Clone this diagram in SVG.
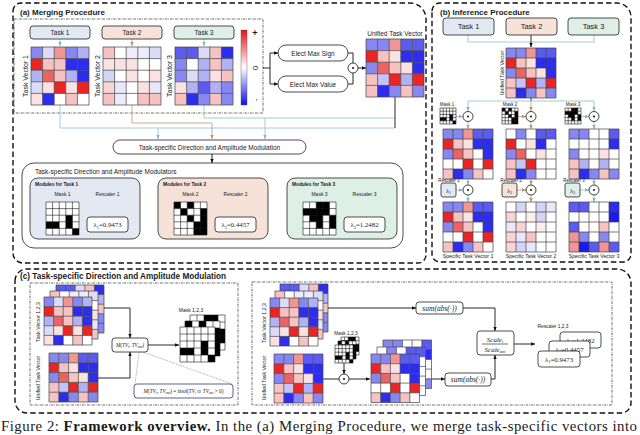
<svg xmlns="http://www.w3.org/2000/svg" width="640" height="435" viewBox="0 0 640 435">
<defs>
<style>
text{font-family:"Liberation Sans",Arial,Helvetica,sans-serif;fill:#1a1a1a}
.sf{font-family:"Liberation Serif","Times New Roman",serif}
.it{font-style:italic}
.bd{font-weight:bold}
.mid{text-anchor:middle}
.gr{fill:none;stroke:#444;stroke-width:0.7}
.gk{fill:none;stroke:#1a1a1a;stroke-width:0.6}
.bx{fill:#fff;stroke:#222;stroke-width:0.8}
.ln{fill:none;stroke-width:0.9}
.lb{stroke:#9cc2e5}
.lt{stroke:#c7a47f}
.lg{stroke:#93c9b8}
.lk{stroke:#111}
.od{fill:none;stroke:#111;stroke-width:1.4;stroke-dasharray:5.5 3}
.dd{fill:none;stroke:#333;stroke-width:0.75;stroke-dasharray:2.5 1 0.7 1}
.t1{fill:#e2e9f3;stroke:#222;stroke-width:0.8}
.t2{fill:#f6e2d8;stroke:#222;stroke-width:0.8}
.t3{fill:#ddefe6;stroke:#222;stroke-width:0.8}
.cir{fill:#fff;stroke:#111;stroke-width:0.8}
</style>
<linearGradient id="cb" x1="0" y1="0" x2="0" y2="1"><stop offset="0" stop-color="#e81010"/><stop offset="0.5" stop-color="#fff"/><stop offset="1" stop-color="#1010e8"/></linearGradient>
<marker id="mk" viewBox="0 0 6 6" refX="6" refY="3" markerWidth="4" markerHeight="4" markerUnits="userSpaceOnUse" orient="auto"><path d="M0 0.5L6 3L0 5.5Z" fill="#111"/></marker>
<marker id="mb" viewBox="0 0 6 6" refX="6" refY="3" markerWidth="4" markerHeight="4" markerUnits="userSpaceOnUse" orient="auto"><path d="M0 0.5L6 3L0 5.5Z" fill="#7fb1de"/></marker>
<marker id="mt" viewBox="0 0 6 6" refX="6" refY="3" markerWidth="4" markerHeight="4" markerUnits="userSpaceOnUse" orient="auto"><path d="M0 0.5L6 3L0 5.5Z" fill="#b8926a"/></marker>
<marker id="mg" viewBox="0 0 6 6" refX="6" refY="3" markerWidth="4" markerHeight="4" markerUnits="userSpaceOnUse" orient="auto"><path d="M0 0.5L6 3L0 5.5Z" fill="#7fbcaa"/></marker>
<path id="grid" class="gr" vector-effect="non-scaling-stroke" d="M0 0H50V50H0ZM10 0V50M20 0V50M30 0V50M40 0V50M0 10H50M0 20H50M0 30H50M0 40H50"/>
<path id="gridk" class="gk" vector-effect="non-scaling-stroke" d="M0 0H50V50H0ZM10 0V50M20 0V50M30 0V50M40 0V50M0 10H50M0 20H50M0 30H50M0 40H50"/>
<g id="TV1"><rect width="50" height="50" fill="#fff"/>
<rect x="0" y="0" width="10" height="10" fill="#8787f1"/><rect x="10" y="0" width="10" height="10" fill="#dcdcf8"/><rect x="20" y="0" width="10" height="10" fill="#f09494"/><rect x="30" y="0" width="10" height="10" fill="#8787f1"/><rect x="40" y="0" width="10" height="10" fill="#b1b1f4"/>
<rect x="0" y="10" width="10" height="10" fill="#e82626"/><rect x="10" y="10" width="10" height="10" fill="#f6c2c2"/><rect x="20" y="10" width="10" height="10" fill="#f6c2c2"/><rect x="30" y="10" width="10" height="10" fill="#2d2def"/><rect x="40" y="10" width="10" height="10" fill="#2d2def"/>
<rect x="0" y="20" width="10" height="10" fill="#b1b1f4"/><rect x="10" y="20" width="10" height="10" fill="#eb6464"/><rect x="20" y="20" width="10" height="10" fill="#f6c2c2"/><rect x="30" y="20" width="10" height="10" fill="#b1b1f4"/><rect x="40" y="20" width="10" height="10" fill="#2d2def"/>
<rect x="0" y="30" width="10" height="10" fill="#dcdcf8"/><rect x="10" y="30" width="10" height="10" fill="#fbe2e2"/><rect x="20" y="30" width="10" height="10" fill="#e82626"/><rect x="30" y="30" width="10" height="10" fill="#fbe2e2"/><rect x="40" y="30" width="10" height="10" fill="#e82626"/>
<rect x="0" y="40" width="10" height="10" fill="#fbe2e2"/><rect x="10" y="40" width="10" height="10" fill="#2d2def"/><rect x="30" y="40" width="10" height="10" fill="#f6c2c2"/>
<use href="#grid"/></g>
<g id="TV2"><rect width="50" height="50" fill="#fff"/>
<rect x="0" y="0" width="10" height="10" fill="#f6c2c2"/><rect x="20" y="0" width="10" height="10" fill="#ececfb"/><rect x="30" y="0" width="10" height="10" fill="#ececfb"/><rect x="40" y="0" width="10" height="10" fill="#dcdcf8"/>
<rect x="0" y="10" width="10" height="10" fill="#fbe2e2"/><rect x="10" y="10" width="10" height="10" fill="#fbe2e2"/><rect x="20" y="10" width="10" height="10" fill="#fbe2e2"/>
<rect x="0" y="20" width="10" height="10" fill="#d4d4f6"/><rect x="20" y="20" width="10" height="10" fill="#fbe2e2"/><rect x="40" y="20" width="10" height="10" fill="#fbe2e2"/>
<rect x="0" y="30" width="10" height="10" fill="#f9d4d4"/><rect x="10" y="30" width="10" height="10" fill="#e8e8fa"/><rect x="30" y="30" width="10" height="10" fill="#fbe2e2"/><rect x="40" y="30" width="10" height="10" fill="#e8e8fa"/>
<rect x="0" y="40" width="10" height="10" fill="#f6c2c2"/><rect x="10" y="40" width="10" height="10" fill="#ececfb"/><rect x="30" y="40" width="10" height="10" fill="#f6c2c2"/><rect x="40" y="40" width="10" height="10" fill="#f6c2c2"/>
<use href="#grid"/></g>
<g id="TV3"><rect width="50" height="50" fill="#fff"/>
<rect x="0" y="0" width="10" height="10" fill="#5b5bf0"/><rect x="10" y="0" width="10" height="10" fill="#5b5bf0"/><rect x="20" y="0" width="10" height="10" fill="#dcdcf8"/><rect x="30" y="0" width="10" height="10" fill="#f6c2c2"/><rect x="40" y="0" width="10" height="10" fill="#2d2def"/>
<rect x="0" y="10" width="10" height="10" fill="#8787f1"/><rect x="20" y="10" width="10" height="10" fill="#b1b1f4"/><rect x="30" y="10" width="10" height="10" fill="#f6c2c2"/><rect x="40" y="10" width="10" height="10" fill="#b1b1f4"/>
<rect x="0" y="20" width="10" height="10" fill="#8787f1"/><rect x="10" y="20" width="10" height="10" fill="#dcdcf8"/><rect x="20" y="20" width="10" height="10" fill="#b1b1f4"/><rect x="30" y="20" width="10" height="10" fill="#fbe2e2"/><rect x="40" y="20" width="10" height="10" fill="#f6c2c2"/>
<rect x="0" y="30" width="10" height="10" fill="#fbe2e2"/><rect x="10" y="30" width="10" height="10" fill="#b1b1f4"/><rect x="20" y="30" width="10" height="10" fill="#5b5bf0"/><rect x="30" y="30" width="10" height="10" fill="#b1b1f4"/><rect x="40" y="30" width="10" height="10" fill="#8787f1"/>
<rect x="0" y="40" width="10" height="10" fill="#f6c2c2"/><rect x="10" y="40" width="10" height="10" fill="#2d2def"/><rect x="20" y="40" width="10" height="10" fill="#8787f1"/><rect x="30" y="40" width="10" height="10" fill="#f6c2c2"/><rect x="40" y="40" width="10" height="10" fill="#8787f1"/>
<use href="#grid"/></g>
<g id="UNI"><rect width="50" height="50" fill="#fff"/>
<rect x="0" y="0" width="10" height="10" fill="#8787f1"/><rect x="10" y="0" width="10" height="10" fill="#8787f1"/><rect x="20" y="0" width="10" height="10" fill="#f09494"/><rect x="30" y="0" width="10" height="10" fill="#5b5bf0"/><rect x="40" y="0" width="10" height="10" fill="#5b5bf0"/>
<rect x="0" y="10" width="10" height="10" fill="#e82626"/><rect x="10" y="10" width="10" height="10" fill="#f6c2c2"/><rect x="20" y="10" width="10" height="10" fill="#fbe2e2"/><rect x="30" y="10" width="10" height="10" fill="#2d2def"/><rect x="40" y="10" width="10" height="10" fill="#2d2def"/>
<rect x="0" y="20" width="10" height="10" fill="#8787f1"/><rect x="10" y="20" width="10" height="10" fill="#eb6464"/><rect x="20" y="20" width="10" height="10" fill="#f6c2c2"/><rect x="30" y="20" width="10" height="10" fill="#fbe2e2"/><rect x="40" y="20" width="10" height="10" fill="#2d2def"/>
<rect x="0" y="30" width="10" height="10" fill="#f6c2c2"/><rect x="10" y="30" width="10" height="10" fill="#c4c4f6"/><rect x="20" y="30" width="10" height="10" fill="#e82626"/><rect x="30" y="30" width="10" height="10" fill="#b1b1f4"/><rect x="40" y="30" width="10" height="10" fill="#e82626"/>
<rect x="0" y="40" width="10" height="10" fill="#f6c2c2"/><rect x="10" y="40" width="10" height="10" fill="#2d2def"/><rect x="20" y="40" width="10" height="10" fill="#8787f1"/><rect x="30" y="40" width="10" height="10" fill="#f6c2c2"/><rect x="40" y="40" width="10" height="10" fill="#8787f1"/>
<use href="#grid"/></g>
<g id="M1"><rect width="50" height="50" fill="#fff"/>
<rect x="0" y="0" width="10" height="10" fill="#8787f1"/><rect x="10" y="0" width="10" height="10" fill="#8787f1"/><rect x="20" y="0" width="10" height="10" fill="#f09494"/><rect x="30" y="0" width="10" height="10" fill="#5b5bf0"/><rect x="40" y="0" width="10" height="10" fill="#5b5bf0"/>
<rect x="0" y="10" width="10" height="10" fill="#e82626"/><rect x="10" y="10" width="10" height="10" fill="#f6c2c2"/><rect x="20" y="10" width="10" height="10" fill="#fbe2e2"/><rect x="30" y="10" width="10" height="10" fill="#2d2def"/><rect x="40" y="10" width="10" height="10" fill="#2d2def"/>
<rect x="0" y="20" width="10" height="10" fill="#8787f1"/><rect x="10" y="20" width="10" height="10" fill="#eb6464"/><rect x="20" y="20" width="10" height="10" fill="#f6c2c2"/><rect x="40" y="20" width="10" height="10" fill="#2d2def"/>
<rect x="20" y="30" width="10" height="10" fill="#e82626"/><rect x="40" y="30" width="10" height="10" fill="#e82626"/>
<rect x="0" y="40" width="10" height="10" fill="#f6c2c2"/><rect x="10" y="40" width="10" height="10" fill="#2d2def"/><rect x="20" y="40" width="10" height="10" fill="#8787f1"/><rect x="30" y="40" width="10" height="10" fill="#f6c2c2"/>
<use href="#grid"/></g>
<g id="M2"><rect width="50" height="50" fill="#fff"/>
<rect x="10" y="0" width="10" height="10" fill="#8787f1"/><rect x="30" y="0" width="10" height="10" fill="#5b5bf0"/><rect x="40" y="0" width="10" height="10" fill="#5b5bf0"/>
<rect x="0" y="10" width="10" height="10" fill="#e82626"/><rect x="20" y="10" width="10" height="10" fill="#fbe2e2"/><rect x="30" y="10" width="10" height="10" fill="#2d2def"/>
<rect x="0" y="20" width="10" height="10" fill="#8787f1"/><rect x="10" y="20" width="10" height="10" fill="#eb6464"/><rect x="30" y="20" width="10" height="10" fill="#fbe2e2"/>
<rect x="0" y="30" width="10" height="10" fill="#f6c2c2"/><rect x="10" y="30" width="10" height="10" fill="#c4c4f6"/><rect x="20" y="30" width="10" height="10" fill="#e82626"/>
<rect x="0" y="40" width="10" height="10" fill="#f6c2c2"/><rect x="10" y="40" width="10" height="10" fill="#2d2def"/><rect x="20" y="40" width="10" height="10" fill="#8787f1"/>
<use href="#grid"/></g>
<g id="M3"><rect width="50" height="50" fill="#fff"/>
<rect x="0" y="0" width="10" height="10" fill="#8787f1"/><rect x="10" y="0" width="10" height="10" fill="#8787f1"/><rect x="40" y="0" width="10" height="10" fill="#5b5bf0"/>
<rect x="40" y="10" width="10" height="10" fill="#2d2def"/>
<rect x="0" y="20" width="10" height="10" fill="#8787f1"/><rect x="30" y="20" width="10" height="10" fill="#fbe2e2"/>
<rect x="0" y="30" width="10" height="10" fill="#f6c2c2"/><rect x="10" y="30" width="10" height="10" fill="#b1b1f4"/><rect x="30" y="30" width="10" height="10" fill="#b1b1f4"/>
<rect x="0" y="40" width="10" height="10" fill="#f6c2c2"/><rect x="10" y="40" width="10" height="10" fill="#2d2def"/><rect x="20" y="40" width="10" height="10" fill="#8787f1"/><rect x="30" y="40" width="10" height="10" fill="#f6c2c2"/><rect x="40" y="40" width="10" height="10" fill="#8787f1"/>
<use href="#grid"/></g>
<g id="SV2"><rect width="50" height="50" fill="#fff"/>
<rect x="10" y="0" width="10" height="10" fill="#d4d4f6"/><rect x="30" y="0" width="10" height="10" fill="#d4d4f6"/><rect x="40" y="0" width="10" height="10" fill="#e8e8fa"/>
<rect x="0" y="10" width="10" height="10" fill="#f9d4d4"/><rect x="20" y="10" width="10" height="10" fill="#fdeeee"/><rect x="30" y="10" width="10" height="10" fill="#d4d4f6"/>
<rect x="0" y="20" width="10" height="10" fill="#e8e8fa"/><rect x="10" y="20" width="10" height="10" fill="#f9d4d4"/><rect x="30" y="20" width="10" height="10" fill="#fdeeee"/>
<rect x="0" y="30" width="10" height="10" fill="#f9d4d4"/><rect x="10" y="30" width="10" height="10" fill="#e8e8fa"/><rect x="20" y="30" width="10" height="10" fill="#f6c2c2"/>
<rect x="0" y="40" width="10" height="10" fill="#f9d4d4"/><rect x="10" y="40" width="10" height="10" fill="#d4d4f6"/><rect x="20" y="40" width="10" height="10" fill="#e8e8fa"/>
<use href="#grid"/></g>
<g id="SV3"><rect width="50" height="50" fill="#fff"/>
<rect x="0" y="0" width="10" height="10" fill="#5b5bf0"/><rect x="10" y="0" width="10" height="10" fill="#5b5bf0"/><rect x="40" y="0" width="10" height="10" fill="#2d2def"/>
<rect x="40" y="10" width="10" height="10" fill="#1a1aee"/>
<rect x="0" y="20" width="10" height="10" fill="#5b5bf0"/><rect x="30" y="20" width="10" height="10" fill="#f6c2c2"/>
<rect x="0" y="30" width="10" height="10" fill="#f09494"/><rect x="10" y="30" width="10" height="10" fill="#8787f1"/><rect x="30" y="30" width="10" height="10" fill="#8787f1"/>
<rect x="0" y="40" width="10" height="10" fill="#f09494"/><rect x="10" y="40" width="10" height="10" fill="#1a1aee"/><rect x="20" y="40" width="10" height="10" fill="#5b5bf0"/><rect x="30" y="40" width="10" height="10" fill="#f09494"/><rect x="40" y="40" width="10" height="10" fill="#5b5bf0"/>
<use href="#grid"/></g>
<g id="MK1"><rect width="50" height="50" fill="#fff"/><path d="M30 20h10v10h-10zM0 30h20v10h-20zM30 30h10v10h-10zM40 40h10v10h-10z" fill="#000"/><use href="#gridk"/></g>
<g id="MK2"><rect width="50" height="50" fill="#fff"/><path d="M0 0h10v10h-10zM20 0h10v10h-10zM10 10h10v10h-10zM40 10h10v40h-10zM20 20h10v10h-10zM30 30h10v20h-10z" fill="#000"/><use href="#gridk"/></g>
<g id="MK3"><rect width="50" height="50" fill="#fff"/><path d="M20 0h20v10h-20zM0 10h40v10h-40zM10 20h20v10h-20zM40 20h10v20h-10zM20 30h10v10h-10z" fill="#000"/><use href="#gridk"/></g>
</defs>
<rect width="640" height="435" fill="#fff"/>

<!-- panel frames -->
<g id="frames">
<path class="od" d="M13 11A8 8 0 0 1 21 3H410A16 16 0 0 1 426 19V255A8 8 0 0 1 418 263H23A10 10 0 0 1 13 253Z"/>
<path class="od" d="M432 11A8 8 0 0 1 440 3H617A14 14 0 0 1 631 17V254A8 8 0 0 1 623 262H440A8 8 0 0 1 432 254Z"/>
<path class="od" d="M15 281A12 12 0 0 1 27 269H617A14 14 0 0 1 631 283V403A10 10 0 0 1 621 413H27A12 12 0 0 1 15 401Z"/>
<rect class="dd" x="14" y="19" width="249" height="94"/>
<rect class="dd" x="30" y="283" width="208" height="122"/>
<rect class="dd" x="252" y="282" width="360" height="123"/>
<text x="20" y="15" font-size="8" class="bd">(a) Merging Procedure</text>
<text x="440" y="15" font-size="8" class="bd">(b) Inference Procedure</text>
<text x="20" y="279" font-size="8.2" class="bd">(c) Task-specific Direction and Amplitude Modulation</text>
</g>

<!-- connectors -->
<g id="connectors">
<path class="ln lb" d="M60 39V46" marker-end="url(#mb)"/>
<path class="ln lt" d="M132 39V46" marker-end="url(#mt)"/>
<path class="ln lg" d="M204 39V46" marker-end="url(#mg)"/>
<path class="ln lk" d="M263 68H270M270 53V84"/>
<path class="ln lk" d="M270 53H278" marker-end="url(#mk)"/>
<path class="ln lk" d="M270 84H278" marker-end="url(#mk)"/>
<path class="ln lk" d="M348 53H353V63M348 84H353V73"/>
<path class="ln lk" d="M358 68H366" marker-end="url(#mk)"/>
<path class="ln lb" d="M60 105V128H395"/>
<path class="ln lt" d="M132 105V123H212V139" marker-end="url(#mt)"/>
<path class="ln lg" d="M204 105V118H395"/>
<path class="ln lb" d="M158 128V139" marker-end="url(#mb)"/>
<path class="ln lg" d="M265 118V139" marker-end="url(#mg)"/>
<path class="ln lk" d="M395 97V128"/>
<path class="ln lk" d="M212 154V163" marker-end="url(#mk)"/>

<path class="ln lb" d="M468 35V42H531"/>
<path class="ln lg" d="M594 35V42H531"/>
<path class="ln lk" d="M531 35V47" marker-end="url(#mk)"/>
<path class="ln lk" d="M531 98V101"/>
<path class="ln lb" d="M531 101H468V111" marker-end="url(#mb)"/>
<path class="ln lt" d="M531 101V111" marker-end="url(#mt)"/>
<path class="ln lg" d="M531 101H594V111" marker-end="url(#mg)"/>
<path class="ln lb" d="M456 116.5H463" marker-end="url(#mb)"/>
<path class="ln lt" d="M518 116.5H526" marker-end="url(#mt)"/>
<path class="ln lg" d="M581 116.5H589" marker-end="url(#mg)"/>
<path class="ln lb" d="M468 121.5V129" marker-end="url(#mb)"/>
<path class="ln lt" d="M531 121.5V129" marker-end="url(#mt)"/>
<path class="ln lg" d="M594 121.5V129" marker-end="url(#mg)"/>
<path class="ln lb" d="M468 179V185" marker-end="url(#mb)"/>
<path class="ln lt" d="M531 179V185" marker-end="url(#mt)"/>
<path class="ln lg" d="M594 179V185" marker-end="url(#mg)"/>
<path class="ln lb" d="M456 190H463" marker-end="url(#mb)"/>
<path class="ln lt" d="M517 190H526" marker-end="url(#mt)"/>
<path class="ln lg" d="M580 190H589" marker-end="url(#mg)"/>
<path class="ln lb" d="M468 195V202" marker-end="url(#mb)"/>
<path class="ln lt" d="M531 195V202" marker-end="url(#mt)"/>
<path class="ln lg" d="M594 195V202" marker-end="url(#mg)"/>

<path class="ln lk" d="M104 308H130V338" marker-end="url(#mk)"/>
<path class="ln lk" d="M98 378H130V352" marker-end="url(#mk)"/>
<path class="ln lk" d="M148 345H179" marker-end="url(#mk)"/>
<path fill="none" stroke="#666" stroke-width="0.5" stroke-dasharray="1.5 1" d="M139 352L135 384M143 352L232 384"/>
<path class="ln lk" d="M328 308H416" marker-end="url(#mk)"/>
<path class="ln lk" d="M344 363V374" marker-end="url(#mk)"/>
<path class="ln lk" d="M323 379H339"/>
<path class="ln lk" d="M349 379H370" marker-end="url(#mk)"/>
<path class="ln lk" d="M432 379H445" marker-end="url(#mk)"/>
<path class="ln lk" d="M463 308H495V331" marker-end="url(#mk)"/>
<path class="ln lk" d="M491 379H495V355" marker-end="url(#mk)"/>
<path class="ln lk" d="M514 344H535" marker-end="url(#mk)"/>
</g>

<!-- (a) merging -->
<g id="a-task1"><rect class="t1" x="30" y="26" width="60" height="13" rx="3"/><text class="mid" x="60" y="34.8" font-size="6.5">Task 1</text></g>
<g id="a-task2"><rect class="t2" x="102" y="26" width="60" height="13" rx="3"/><text class="mid" x="132" y="34.8" font-size="6.5">Task 2</text></g>
<g id="a-task3"><rect class="t3" x="174" y="26" width="60" height="13" rx="3"/><text class="mid" x="204" y="34.8" font-size="6.5">Task 3</text></g>
<g id="a-tv1"><use href="#TV1" transform="translate(31,47) scale(1.16)"/><text class="mid" font-size="7" transform="translate(28,76) rotate(-90)">Task Vector 1</text></g>
<g id="a-tv2"><use href="#TV2" transform="translate(103,47) scale(1.16)"/><text class="mid" font-size="7" transform="translate(100,76) rotate(-90)">Task Vector 2</text></g>
<g id="a-tv3"><use href="#TV3" transform="translate(175,47) scale(1.16)"/><text class="mid" font-size="7" transform="translate(172,76) rotate(-90)">Task Vector 3</text></g>
<g id="a-colorbar"><rect x="241" y="30" width="6" height="75" fill="url(#cb)" stroke="#555" stroke-width="0.4"/>
<text class="mid bd" x="255" y="36" font-size="9">+</text>
<text class="mid" font-size="8" transform="translate(258,68) rotate(-90)">0</text>
<text class="mid" font-size="8" transform="translate(258,100) rotate(-90)">-</text></g>
<g id="a-sign"><rect class="bx" x="278" y="45" width="70" height="16" rx="8"/><text class="mid" x="313" y="55.5" font-size="6.5">Elect Max Sign</text></g>
<g id="a-value"><rect class="bx" x="278" y="76" width="70" height="16" rx="8"/><text class="mid" x="313" y="86.5" font-size="6.5">Elect Max Value</text></g>
<g id="a-op"><circle class="cir" cx="353" cy="68" r="5"/><circle cx="353" cy="68" r="1" fill="#111"/></g>
<g id="a-unified"><text class="mid" x="395" y="35.5" font-size="6.5">Unified Task Vector</text><use href="#UNI" transform="translate(366,39) scale(1.16)"/></g>
<g id="a-modulation"><rect class="bx" x="113" y="140" width="193" height="14" rx="7"/><text class="mid" x="209.5" y="149.5" font-size="6.5">Task-specific Direction and Amplitude Modulation</text></g>
<g id="a-modulators"><rect class="bx" x="22" y="163" width="381" height="85" rx="12"/><text x="35" y="174" font-size="6.5">Task-specific Direction and Amplitude Modulators</text></g>
<g id="a-mod1"><rect class="t1" x="30" y="178" width="110" height="61" rx="8"/>
<text class="bd" x="35" y="185.5" font-size="4.8">Modules for Task 1</text>
<text class="mid" x="62.5" y="195.5" font-size="5">Mask 1</text><text class="mid" x="107.5" y="195.5" font-size="5">Rescaler 1</text>
<use href="#MK1" transform="translate(46,202) scale(0.66)"/>
<rect class="bx" x="87" y="217" width="41" height="15" rx="3"/>
<text class="mid sf" x="107.5" y="227" font-size="6.8">λ<tspan dy="1.5" font-size="4.5">1</tspan><tspan dy="-1.5">=0.9473</tspan></text></g>
<g id="a-mod2"><rect class="t2" x="158" y="178" width="110" height="61" rx="8"/>
<text class="bd" x="163" y="185.5" font-size="4.8">Modules for Task 2</text>
<text class="mid" x="190.5" y="195.5" font-size="5">Mask 2</text><text class="mid" x="235.5" y="195.5" font-size="5">Rescaler 2</text>
<use href="#MK2" transform="translate(174,202) scale(0.66)"/>
<rect class="bx" x="215" y="217" width="41" height="15" rx="3"/>
<text class="mid sf" x="235.5" y="227" font-size="6.8">λ<tspan dy="1.5" font-size="4.5">2</tspan><tspan dy="-1.5">=0.4457</tspan></text></g>
<g id="a-mod3"><rect class="t3" x="287" y="178" width="110" height="61" rx="8"/>
<text class="bd" x="292" y="185.5" font-size="4.8">Modules for Task 3</text>
<text class="mid" x="319.5" y="195.5" font-size="5">Mask 3</text><text class="mid" x="364.5" y="195.5" font-size="5">Rescaler 3</text>
<use href="#MK3" transform="translate(303,202) scale(0.66)"/>
<rect class="bx" x="344" y="217" width="41" height="15" rx="3"/>
<text class="mid sf" x="364.5" y="227" font-size="6.8">λ<tspan dy="1.5" font-size="4.5">3</tspan><tspan dy="-1.5">=1.2482</tspan></text></g>

<!-- (b) inference -->
<g id="b-task1"><rect class="t1" x="443" y="18" width="51" height="17" rx="3"/><text class="mid" x="468.5" y="29.3" font-size="7.5">Task 1</text></g>
<g id="b-task2"><rect class="t2" x="506" y="18" width="51" height="17" rx="3"/><text class="mid" x="531.5" y="29.3" font-size="7.5">Task 2</text></g>
<g id="b-task3"><rect class="t3" x="568" y="18" width="51" height="17" rx="3"/><text class="mid" x="593.5" y="29.3" font-size="7.5">Task 3</text></g>
<g id="b-unified"><use href="#UNI" transform="translate(506,48)"/><text class="mid" font-size="5.2" transform="translate(504,73) rotate(-90)">Unified Task Vector</text></g>
<g id="b-mask1"><text class="mid" x="447" y="106" font-size="4.5">Mask 1</text><use href="#MK1" transform="translate(440,108) scale(0.32)"/></g>
<g id="b-mask2"><text class="mid" x="510" y="106" font-size="4.5">Mask 2</text><use href="#MK2" transform="translate(502,108) scale(0.32)"/></g>
<g id="b-mask3"><text class="mid" x="573" y="106" font-size="4.5">Mask 3</text><use href="#MK3" transform="translate(565,108) scale(0.32)"/></g>
<g id="b-op1"><circle class="cir" cx="468" cy="116.5" r="5"/><circle cx="468" cy="116.5" r="1" fill="#111"/></g>
<g id="b-op2"><circle class="cir" cx="531" cy="116.5" r="5"/><circle cx="531" cy="116.5" r="1" fill="#111"/></g>
<g id="b-op3"><circle class="cir" cx="594" cy="116.5" r="5"/><circle cx="594" cy="116.5" r="1" fill="#111"/></g>
<g id="b-masked1"><use href="#M1" transform="translate(443,129)"/></g>
<g id="b-masked2"><use href="#M2" transform="translate(506,129)"/></g>
<g id="b-masked3"><use href="#M3" transform="translate(569,129)"/></g>
<g id="b-resc1"><text class="mid" x="449" y="181.5" font-size="4.5">Rescaler 1</text><rect class="t1" x="441" y="183" width="15" height="14" rx="2"/><text class="mid sf" x="448.5" y="192.5" font-size="6.5">λ<tspan dy="1.3" font-size="4.2">1</tspan></text></g>
<g id="b-resc2"><text class="mid" x="511" y="181.5" font-size="4.5">Rescaler 2</text><rect class="t2" x="502" y="183" width="15" height="14" rx="2"/><text class="mid sf" x="509.5" y="192.5" font-size="6.5">λ<tspan dy="1.3" font-size="4.2">2</tspan></text></g>
<g id="b-resc3"><text class="mid" x="574" y="181.5" font-size="4.5">Rescaler 3</text><rect class="t3" x="565" y="183" width="15" height="14" rx="2"/><text class="mid sf" x="572.5" y="192.5" font-size="6.5">λ<tspan dy="1.3" font-size="4.2">3</tspan></text></g>
<g id="b-op4"><circle class="cir" cx="468" cy="190" r="5"/><circle cx="468" cy="190" r="1" fill="#111"/></g>
<g id="b-op5"><circle class="cir" cx="531" cy="190" r="5"/><circle cx="531" cy="190" r="1" fill="#111"/></g>
<g id="b-op6"><circle class="cir" cx="594" cy="190" r="5"/><circle cx="594" cy="190" r="1" fill="#111"/></g>
<g id="b-sv1"><use href="#M1" transform="translate(443,202)"/><text class="mid" x="468" y="257.5" font-size="5.2">Specific Task Vector 1</text></g>
<g id="b-sv2"><use href="#SV2" transform="translate(506,202)"/><text class="mid" x="531" y="257.5" font-size="5.2">Specific Task Vector 2</text></g>
<g id="b-sv3"><use href="#SV3" transform="translate(569,202)"/><text class="mid" x="594" y="257.5" font-size="5.2">Specific Task Vector 3</text></g>

<!-- (c) left -->
<g id="c-tvstack"><use href="#TV3" transform="translate(56,285) scale(0.96)"/><use href="#TV2" transform="translate(50,291) scale(0.96)"/><use href="#TV1" transform="translate(44,297) scale(0.96)"/>
<text class="mid" font-size="5.2" transform="translate(40,322) rotate(-90)">Task Vector 1,2,3</text></g>
<g id="c-unified"><use href="#UNI" transform="translate(49,353) scale(0.98)"/><text class="mid" font-size="5.2" transform="translate(40,378) rotate(-90)">Unified Task Vector</text></g>
<g id="c-mfunc"><rect class="bx" x="112" y="338" width="36" height="14" rx="3"/>
<text class="mid sf it" x="130" y="347.3" font-size="5.2">M(TV<tspan dy="1" font-size="3.6">i</tspan><tspan dy="-1">, TV</tspan><tspan dy="1" font-size="3.6">uni</tspan><tspan dy="-1">)</tspan></text></g>
<g id="c-maskstack"><text class="mid" x="191" y="311.5" font-size="5">Mask 1,2,3</text>
<use href="#MK3" transform="translate(190,315) scale(0.7)"/><use href="#MK2" transform="translate(185,321) scale(0.7)"/><use href="#MK1" transform="translate(180,327) scale(0.7)"/></g>
<g id="c-formula"><rect x="134" y="384" width="99" height="14" rx="3" fill="#fff" stroke="#2c3e70" stroke-width="0.8"/>
<text class="mid sf" x="183.5" y="393.3" font-size="5.3"><tspan class="it">M</tspan>(<tspan class="it">TV</tspan><tspan dy="1" font-size="3.6">i</tspan><tspan dy="-1">, </tspan><tspan class="it">TV</tspan><tspan dy="1" font-size="3.6">uni</tspan><tspan dy="-1">) = </tspan><tspan class="it">bool</tspan>(<tspan class="it">TV</tspan><tspan dy="1" font-size="3.6">i</tspan><tspan dy="-1"> ⊙ </tspan><tspan class="it">TV</tspan><tspan dy="1" font-size="3.6">uni</tspan><tspan dy="-1"> &gt; 0)</tspan></text></g>

<!-- (c) right -->
<g id="c-tvstack2"><use href="#TV3" transform="translate(280,284) scale(0.96)"/><use href="#TV2" transform="translate(275,291) scale(0.96)"/><use href="#TV1" transform="translate(270,298) scale(0.96)"/>
<text class="mid" font-size="5.2" transform="translate(266,323) rotate(-90)">Task Vector 1,2,3</text></g>
<g id="c-unified2"><use href="#UNI" transform="translate(274,354) scale(0.98)"/><text class="mid" font-size="5.2" transform="translate(266,378) rotate(-90)">Unified Task Vector</text></g>
<g id="c-maskstack2"><text class="mid" x="346" y="334.5" font-size="4.8">Mask 1,2,3</text>
<use href="#MK3" transform="translate(341,337) scale(0.36)"/><use href="#MK2" transform="translate(338,341) scale(0.36)"/><use href="#MK1" transform="translate(335,345) scale(0.36)"/></g>
<g id="c-op"><circle class="cir" cx="344" cy="379" r="5"/><circle cx="344" cy="379" r="1" fill="#111"/></g>
<g id="c-maskedstack"><use href="#M3" transform="translate(383,340) scale(0.97)"/><use href="#M2" transform="translate(377,347) scale(0.97)"/><use href="#M1" transform="translate(371,354) scale(0.97)"/></g>
<g id="c-sum1"><rect class="bx" x="416" y="302" width="47" height="12" rx="3"/><text class="mid sf it" x="439.5" y="310.8" font-size="7.5">sum(abs(·))</text></g>
<g id="c-sum2"><rect class="bx" x="445" y="373" width="46" height="13" rx="3"/><text class="mid sf it" x="468" y="382.3" font-size="7.5">sum(abs(·))</text></g>
<g id="c-scale"><rect class="bx" x="477" y="331" width="37" height="24" rx="3"/>
<text class="mid sf it" x="495" y="341.5" font-size="7">Scale<tspan dy="1.3" font-size="4.5">i</tspan></text>
<path d="M482 344H508" stroke="#111" stroke-width="0.6"/>
<text class="mid sf it" x="495" y="351.5" font-size="7">Scale<tspan dy="1.3" font-size="4.5">uni</tspan></text></g>
<g id="c-rescalers"><text class="mid" x="553" y="327.5" font-size="4.8">Rescaler 1,2,3</text>
<rect class="bx" x="560" y="332" width="41" height="16" rx="3"/><text class="mid sf" x="580.5" y="342.5" font-size="6.8">λ<tspan dy="1.5" font-size="4.5">3</tspan><tspan dy="-1.5">=1.2482</tspan></text>
<rect class="bx" x="549" y="341" width="41" height="16" rx="3"/><text class="mid sf" x="569.5" y="351.5" font-size="6.8">λ<tspan dy="1.5" font-size="4.5">2</tspan><tspan dy="-1.5">=0.4457</tspan></text>
<rect class="bx" x="538" y="351" width="42" height="16" rx="3"/><text class="mid sf" x="559" y="361.5" font-size="6.8">λ<tspan dy="1.5" font-size="4.5">1</tspan><tspan dy="-1.5">=0.9473</tspan></text></g>

<text class="sf" x="1" y="430.5" font-size="14.8" textLength="636" lengthAdjust="spacing">Figure 2: <tspan class="bd">Framework overview.</tspan> In the (a) Merging Procedure, we merge task-specific vectors into</text>
</svg>
